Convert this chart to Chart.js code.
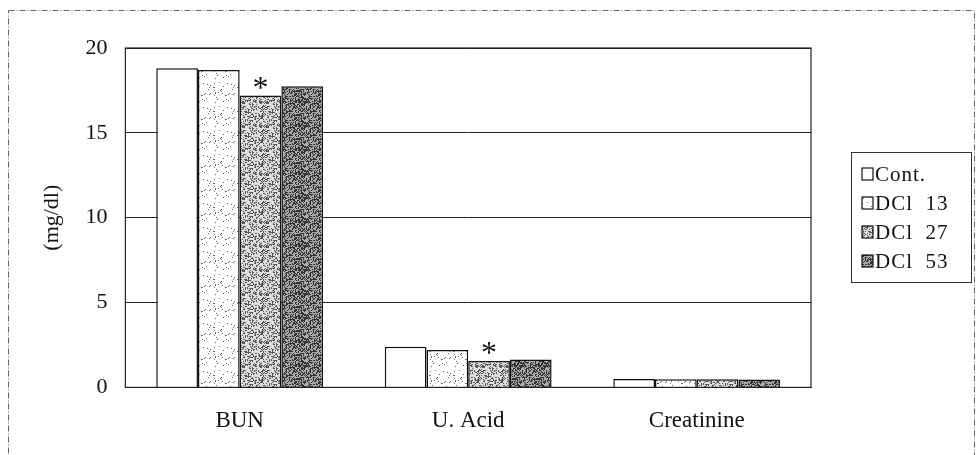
<!DOCTYPE html>
<html>
<head>
<meta charset="utf-8">
<script src="https://cdn.jsdelivr.net/npm/chart.js@4"></script>
<style>
  html, body { margin: 0; padding: 0; background: #fff; }
  #wrap { width: 977px; height: 455px; }
</style>
</head>
<body>
<div id="wrap"><canvas id="chart" width="977" height="455"></canvas></div>
<script>
// data
const categories = ["BUN", "U. Acid", "Creatinine"];
const seriesNames = ["Cont.", "DCl  13", "DCl  27", "DCl  53"];
const cont = [18.8, 2.4, 0.5];
const dcl13 = [18.7, 2.2, 0.48];
const dcl27 = [17.2, 1.55, 0.48];
const dcl53 = [17.75, 1.65, 0.46];
const starred = [true, true, false]; // "*" over DCl 27
const yTicks = [0, 5, 10, 15, 20];

const serif = "'Liberation Serif'";

// stipple fills like the scanned print
function stipple(bg, dot, density, seed) {
  const c = document.createElement("canvas");
  c.width = 24; c.height = 24;
  const g = c.getContext("2d");
  g.fillStyle = bg; g.fillRect(0, 0, 24, 24);
  let s = seed;
  g.fillStyle = dot;
  for (let y = 0; y < 24; y++) {
    for (let x = 0; x < 24; x++) {
      s = (s * 1103515245 + 12345) & 0x7fffffff;
      if ((s % 1000) / 1000 < density) g.fillRect(x, y, 1, 1);
    }
  }
  return g.createPattern(c, "repeat");
}

const fills = [
  "#ffffff",
  stipple("#ffffff", "#666", 0.07, 7),
  stipple("#dedede", "#555", 0.35, 11),
  stipple("#a8a8a8", "#333", 0.45, 23),
];

const values = [cont, dcl13, dcl27, dcl53];

const frame = {
  id: "frame",
  beforeDraw(chart) {
    const ctx = chart.ctx;
    ctx.save();
    ctx.strokeStyle = "#666";
    ctx.lineWidth = 1;
    ctx.setLineDash([6, 2, 1, 2]);
    ctx.strokeRect(8.5, 10.5, 966, 460);
    ctx.restore();
  },
  afterDraw(chart) {
    const ctx = chart.ctx;
    const a = chart.chartArea;
    ctx.save();
    ctx.strokeStyle = "#222";
    ctx.lineWidth = 1.2;
    ctx.strokeRect(a.left, a.top, a.right - a.left, a.bottom - a.top);

    // legend box
    const lx = a.right + 40, ly = 152, lw = 120, lh = 130;
    ctx.strokeStyle = "#333";
    ctx.lineWidth = 1;
    ctx.strokeRect(lx + 0.5, ly + 0.5, lw, lh);
    ctx.font = "21px " + serif;
    ctx.letterSpacing = "1px";
    ctx.textAlign = "left";
    ctx.textBaseline = "middle";
    chart.data.datasets.forEach((ds, i) => {
      const cy = ly + 22 + i * 29;
      ctx.fillStyle = ds.backgroundColor;
      ctx.fillRect(lx + 11, cy - 6, 11, 12);
      ctx.strokeStyle = "#111";
      ctx.lineWidth = 1.2;
      ctx.strokeRect(lx + 11, cy - 6, 11, 12);
      ctx.fillStyle = "#111";
      ctx.fillText(ds.label, lx + 24, cy + 1);
    });
    ctx.letterSpacing = "0px";

    // asterisks
    const meta = chart.getDatasetMeta(2);
    ctx.fillStyle = "#111";
    ctx.font = "32px " + serif;
    ctx.textAlign = "center";
    ctx.textBaseline = "alphabetic";
    starred.forEach((on, i) => {
      if (!on) return;
      const bar = meta.data[i];
      ctx.fillText("*", bar.x, bar.y + 2);
    });
    ctx.restore();
  }
};

new Chart(document.getElementById("chart"), {
  type: "bar",
  data: {
    labels: categories,
    datasets: seriesNames.map((name, i) => ({
      label: name,
      data: values[i],
      backgroundColor: fills[i],
      borderColor: "#111",
      borderWidth: 1.5,
      borderSkipped: "bottom",
      categoryPercentage: 0.73,
      barPercentage: 1.0,
    })),
  },
  options: {
    responsive: false,
    animation: false,
    layout: { padding: { left: 39, right: 166, top: 48, bottom: 0 } },
    plugins: {
      tooltip: { enabled: false },
      legend: { display: false },
    },
    scales: {
      x: {
        grid: { display: false, drawTicks: false },
        border: { display: true, color: "#222" },
        ticks: {
          color: "#111",
          font: { family: serif, size: 23 },
          padding: 20,
        },
      },
      y: {
        min: 0,
        max: 20,
        afterBuildTicks: (s) => { s.ticks = yTicks.map((v) => ({ value: v })); },
        grid: { color: "#222", lineWidth: 1, drawTicks: false },
        border: { display: true, color: "#222" },
        ticks: {
          color: "#111",
          font: { family: serif, size: 22 },
          padding: 18,
        },
        title: {
          display: true,
          text: "(mg/dl)",
          color: "#111",
          font: { family: serif, size: 22 },
          padding: { top: 0, bottom: 2 },
        },
      },
    },
  },
  plugins: [frame],
});
</script>
</body>
</html>
